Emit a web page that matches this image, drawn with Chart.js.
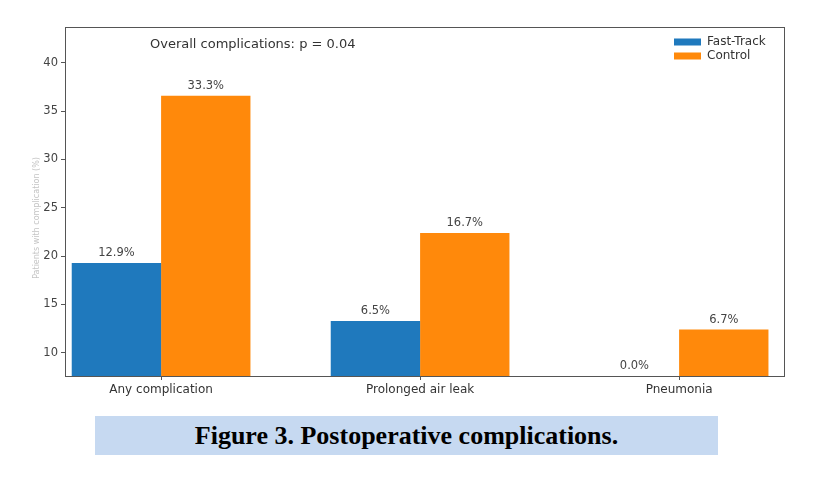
<!DOCTYPE html>
<html>
<head>
<meta charset="utf-8">
<script src="https://cdn.jsdelivr.net/npm/chart.js@4"></script>
<style>
  body { margin: 0; background: #fff; }
  #wrap { position: absolute; left: 0; top: 0; width: 832px; height: 410px; }
  #caption {
    position: absolute; left: 95px; top: 416px; width: 623px; height: 39px;
    background: #c6d9f1; text-align: center; line-height: 40px;
    font-family: "Liberation Serif", serif; font-weight: bold; font-size: 26px; color: #000;
  }
</style>
</head>
<body>
<div id="wrap"><canvas id="chart" width="832" height="410"></canvas></div>
<div id="caption">Figure 3. Postoperative complications.</div>
<script>
// data
const categories = ['Any complication', 'Prolonged air leak', 'Pneumonia'];
const fastTrack = [19.3, 13.3, 0];
const control = [36.6, 22.4, 12.4];
const fastTrackPct = [12.9, 6.5, 0.0];
const controlPct = [33.3, 16.7, 6.7];
const yTicks = [10, 15, 20, 25, 30, 35, 40];

const BLUE = '#1f79bd';
const ORANGE = '#ff890b';
const FONT = '"DejaVu Sans", sans-serif';

const extras = {
  id: 'extras',
  afterDatasetsDraw(chart) {
    const ctx = chart.ctx;
    const area = chart.chartArea;
    ctx.save();

    // value labels above bars
    ctx.font = '11.5px ' + FONT;
    ctx.fillStyle = '#444';
    ctx.textAlign = 'center';
    ctx.textBaseline = 'bottom';
    const pcts = [fastTrackPct, controlPct];
    chart.data.datasets.forEach((ds, di) => {
      chart.getDatasetMeta(di).data.forEach((bar, i) => {
        const y = Math.min(bar.y, area.bottom);
        ctx.fillText(pcts[di][i].toFixed(1) + '%', bar.x, y - 4);
      });
    });

    // frame
    ctx.strokeStyle = '#555';
    ctx.lineWidth = 1;
    ctx.strokeRect(area.left + 0.5, area.top + 0.5, area.right - area.left, area.bottom - area.top);

    // annotation
    ctx.font = '13px ' + FONT;
    ctx.fillStyle = '#333';
    ctx.textAlign = 'left';
    ctx.textBaseline = 'middle';
    ctx.fillText('Overall complications: p = 0.04', 150, 45);

    // legend
    ctx.font = '12px ' + FONT;
    chart.data.datasets.forEach((ds, di) => {
      const y = 42 + di * 14;
      ctx.fillStyle = ds.backgroundColor;
      ctx.fillRect(674, y - 3.5, 27, 7);
      ctx.fillStyle = '#333';
      ctx.fillText(ds.label, 707, y);
    });

    // y axis title (faint in the original)
    ctx.translate(37, 218);
    ctx.rotate(-Math.PI / 2);
    ctx.font = '8px ' + FONT;
    ctx.fillStyle = '#c4c4c4';
    ctx.textAlign = 'center';
    ctx.fillText('Patients with complication (%)', 0, 0);
    ctx.restore();
  }
};

new Chart(document.getElementById('chart'), {
  type: 'bar',
  data: {
    datasets: [
      { label: 'Fast-Track', data: fastTrack.map((v, i) => ({ x: i, y: v })), backgroundColor: BLUE },
      { label: 'Control', data: control.map((v, i) => ({ x: i, y: v })), backgroundColor: ORANGE }
    ]
  },
  options: {
    responsive: false,
    animation: false,
    categoryPercentage: 0.69,
    barPercentage: 1,
    layout: { padding: { left: 0, top: 27, right: 48, bottom: 0 } },
    plugins: { legend: { display: false }, tooltip: { enabled: false } },
    scales: {
      x: {
        type: 'linear',
        offset: false,
        min: -0.371,
        max: 2.405,
        afterBuildTicks: axis => { axis.ticks = categories.map((c, i) => ({ value: i })); },
        afterFit: axis => { axis.height = 34; },
        grid: { offset: false, drawOnChartArea: false, drawTicks: true, tickLength: 4, color: '#555' },
        border: { color: '#555' },
        ticks: {
          callback: v => categories[v],
          font: { family: FONT, size: 12 },
          color: '#333',
          padding: 3,
          maxRotation: 0
        }
      },
      y: {
        min: 7.6,
        max: 43.7,
        afterBuildTicks: axis => { axis.ticks = yTicks.map(v => ({ value: v })); },
        afterFit: axis => { axis.width = 65; },
        grid: { drawOnChartArea: false, drawTicks: true, tickLength: 4, color: '#555' },
        border: { color: '#555' },
        ticks: { font: { family: FONT, size: 11.5 }, color: '#444', padding: 3 }
      }
    }
  },
  plugins: [extras]
});
</script>
</body>
</html>
